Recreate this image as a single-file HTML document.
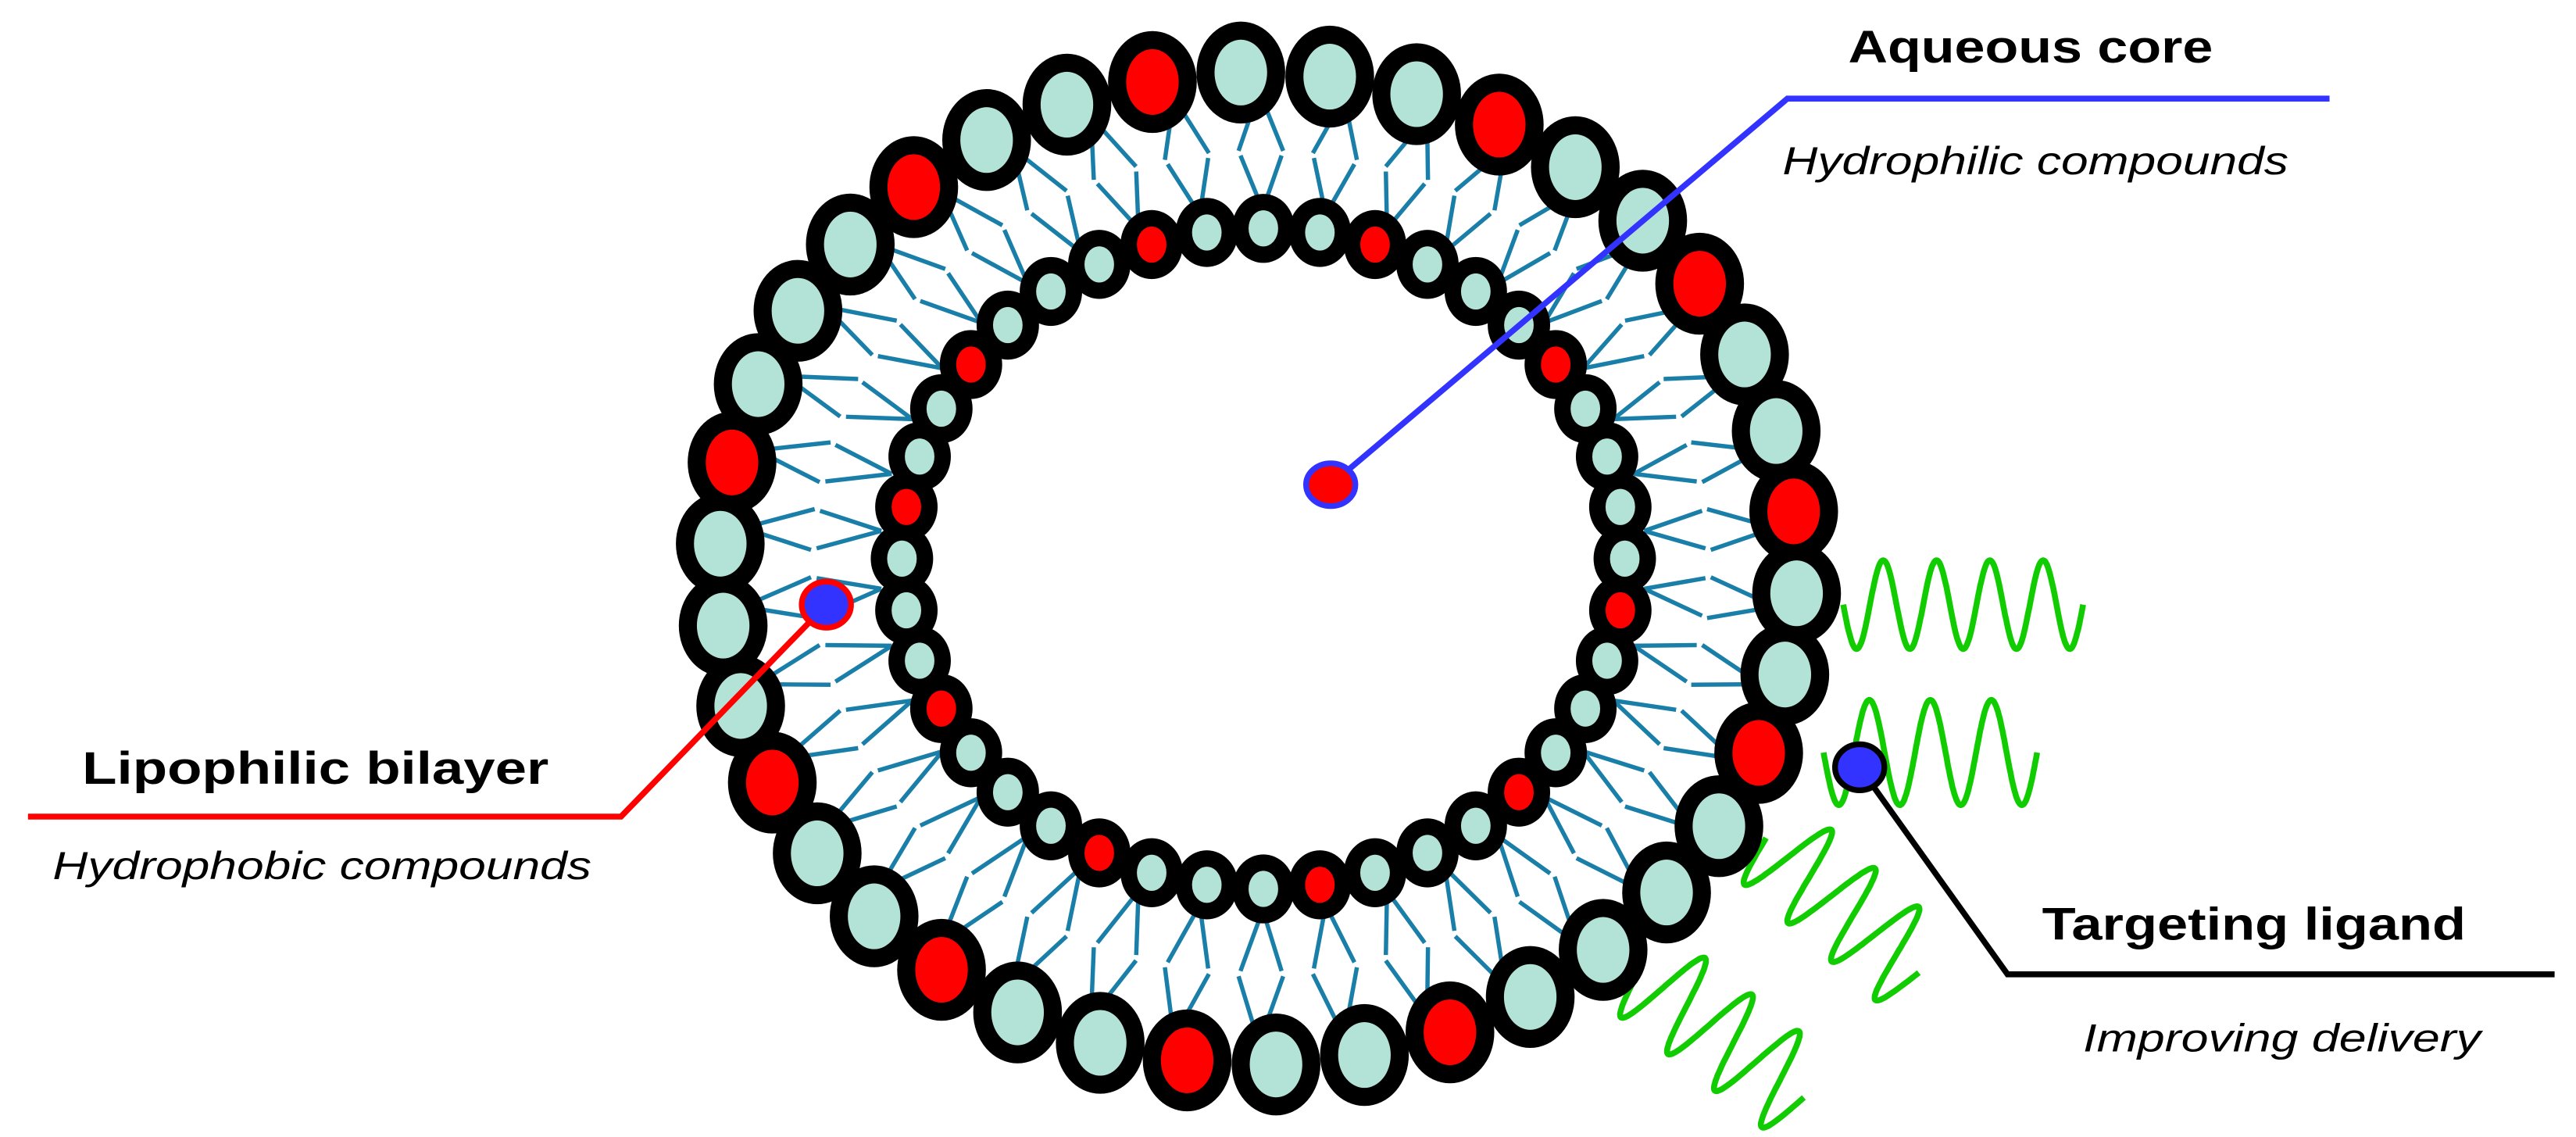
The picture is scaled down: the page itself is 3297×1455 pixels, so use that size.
<!DOCTYPE html>
<html><head><meta charset="utf-8"><style>
html,body{margin:0;padding:0;background:#fff;}
svg{display:block;}
</style></head><body>
<svg id="s" width="3297" height="1455" viewBox="0 0 1568 692" xmlns="http://www.w3.org/2000/svg">
<rect width="1568" height="692" fill="#fff"/>
<g id="tails" stroke="#1a7fa8" stroke-width="2.6" fill="none"></g>
<g id="springs" stroke="#11cc00" stroke-width="3.6" fill="none" stroke-linejoin="round"></g>
<g id="heads"></g>
<g id="labels">
<polyline points="810,295 1088,60 1418,60" stroke="#3333ff" stroke-width="3.6" fill="none"/>
<ellipse cx="810" cy="295" rx="15" ry="13" fill="#ff0000" stroke="#3333ff" stroke-width="3.5"/>
<polyline points="17,497 378,497 503,368" stroke="#ff0000" stroke-width="3.6" fill="none"/>
<ellipse cx="503" cy="368" rx="15" ry="14" fill="#3333ff" stroke="#ff0000" stroke-width="3.5"/>
<polyline points="1132,467 1222,593 1555,593" stroke="#000" stroke-width="3.6" fill="none"/>
<ellipse cx="1132" cy="467" rx="15" ry="14" fill="#3333ff" stroke="#000" stroke-width="3.5"/>
<g font-family="Liberation Sans, sans-serif" fill="#000">
<text x="1125" y="38" font-size="28" font-weight="bold" textLength="222" lengthAdjust="spacingAndGlyphs">Aqueous core</text>
<text x="1085" y="106" font-size="24" font-style="italic" textLength="308" lengthAdjust="spacingAndGlyphs">Hydrophilic compounds</text>
<text x="50" y="477" font-size="28" font-weight="bold" textLength="284" lengthAdjust="spacingAndGlyphs">Lipophilic bilayer</text>
<text x="32" y="535" font-size="24" font-style="italic" textLength="328" lengthAdjust="spacingAndGlyphs">Hydrophobic compounds</text>
<text x="1243" y="572" font-size="28" font-weight="bold" textLength="258" lengthAdjust="spacingAndGlyphs">Targeting ligand</text>
<text x="1268" y="640" font-size="24" font-style="italic" textLength="242" lengthAdjust="spacingAndGlyphs">Improving delivery</text>
</g>
</g>
</svg>
<script>
(function(){
var NS="http://www.w3.org/2000/svg";
function el(p,n,a){var e=document.createElementNS(NS,n);for(var k in a)e.setAttribute(k,a[k]);p.appendChild(e);return e;}
var tails=document.getElementById('tails'),heads=document.getElementById('heads'),springs=document.getElementById('springs');
var IC={x:769,y:340,rx:220,ry:201}, OC={x:766,y:346,rx:328,ry:302};
function pt(th,s){var cx=IC.x+(OC.x-IC.x)*s,cy=IC.y+(OC.y-IC.y)*s,rx=IC.rx+(OC.rx-IC.rx)*s,ry=IC.ry+(OC.ry-IC.ry)*s;return [cx+rx*Math.cos(th),cy+ry*Math.sin(th)];}
var N=38;
for(var i=0;i<N;i++){
 var th=(i+0.5)/N*2*Math.PI, d=Math.PI/N*0.6;
 var a=pt(th,0.12),m1=pt(th+d,0.5),m2=pt(th-d,0.5),b=pt(th,0.88);
 var g=0.08;
 function seg(p,q){var dx=q[0]-p[0],dy=q[1]-p[1];el(tails,'line',{x1:p[0],y1:p[1],x2:p[0]+dx*(1-g),y2:p[1]+dy*(1-g)});}
 seg(a,m1);seg(m1,b);seg(a,m2);seg(m2,b);
}
function spring(x1,y1,x2,y2,amp,per){var dx=x2-x1,dy=y2-y1,L=Math.sqrt(dx*dx+dy*dy),nx=-dy/L,ny=dx/L,pts=[];
 for(var k=0;k<=240;k++){var t=k/240,s=Math.sin(t*per*2*Math.PI)*amp;pts.push((x1+dx*t+nx*s).toFixed(1)+','+(y1+dy*t+ny*s).toFixed(1));}
 el(springs,'polyline',{points:pts.join(' ')});}
spring(1122,368,1268,368,27,4.5);
spring(1110,458,1240,458,32,3.5);
spring(1075,510,1168,592,30,3.5);
spring(998,590,1098,668,30,3.5);
var redO={2:1,7:1,10:1,13:1,16:1,20:1,24:1,27:1,31:1,34:1,37:1};
for(var i=0;i<N;i++){var th=i/N*2*Math.PI+0.05;var p=pt(th,1);
 el(heads,'ellipse',{cx:p[0],cy:p[1],rx:27,ry:31,fill:'#000'});}
for(var i=0;i<N;i++){var th=i/N*2*Math.PI+0.05;var p=pt(th,1);
 el(heads,'ellipse',{cx:p[0],cy:p[1],rx:16,ry:20,fill:redO[i]?'#ff0000':'#b3e3d6'});}
var NI=40;var redI={1:1,5:1,9:1,13:1,17:1,21:1,24:1,28:1,32:1,36:1};
for(var i=0;i<NI;i++){var th=i/NI*2*Math.PI;var p=pt(th,0);
 el(heads,'ellipse',{cx:p[0],cy:p[1],rx:19,ry:21,fill:'#000'});}
for(var i=0;i<NI;i++){var th=i/NI*2*Math.PI;var p=pt(th,0);
 el(heads,'ellipse',{cx:p[0],cy:p[1],rx:9,ry:11,fill:redI[i]?'#ff0000':'#b3e3d6'});}
})();
</script>
</body></html>
